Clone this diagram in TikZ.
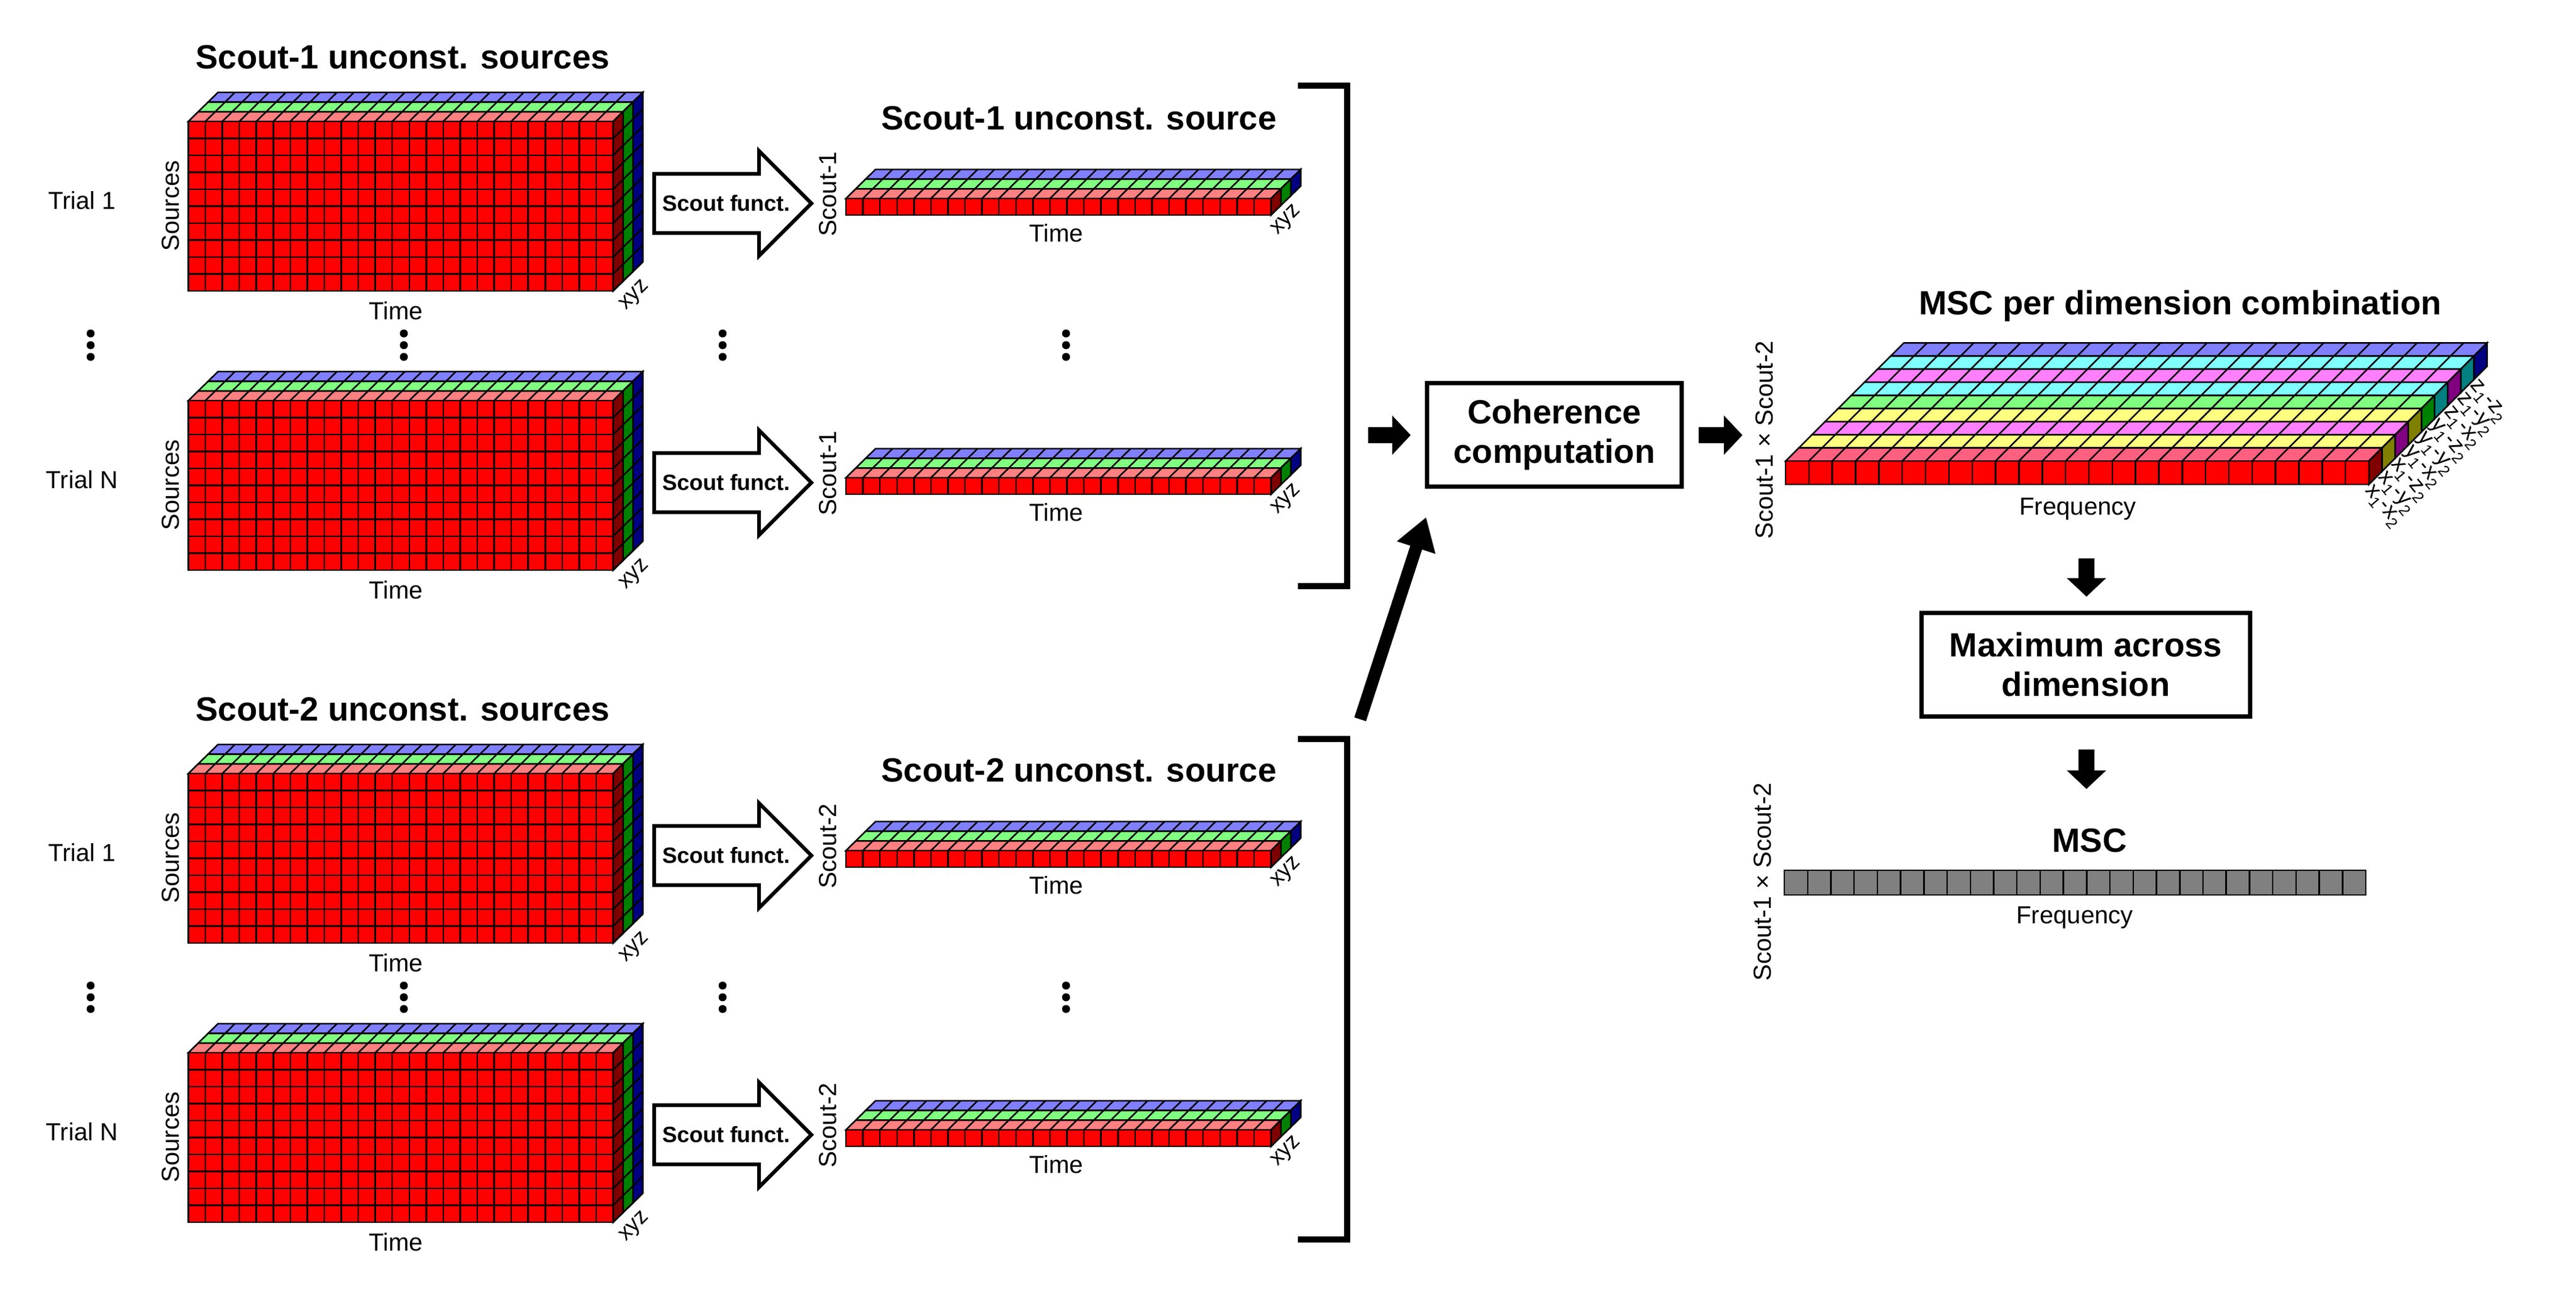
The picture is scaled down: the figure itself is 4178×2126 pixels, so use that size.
\documentclass[tikz,border=0pt]{standalone}
\usepackage{fontspec}
\setmainfont{Liberation Sans}
\usetikzlibrary{arrows.meta}
\definecolor{redT}{HTML}{FF8080}
\definecolor{redTT}{HTML}{FF6080}
\definecolor{greenT}{HTML}{80FF80}
\definecolor{blueT}{HTML}{8080FF}
\definecolor{yelT}{HTML}{FFFF80}
\definecolor{magT}{HTML}{FF80FF}
\definecolor{cyaT}{HTML}{80FFFF}
\definecolor{redS}{HTML}{800000}
\definecolor{greenS}{HTML}{008000}
\definecolor{blueS}{HTML}{000080}
\definecolor{yelS}{HTML}{808000}
\definecolor{magS}{HTML}{800080}
\definecolor{cyaS}{HTML}{008080}
\definecolor{frontR}{HTML}{FF0000}
\definecolor{grayC}{HTML}{808080}
% #1 X, #2 Y, #3 ncol, #4 nrow, #5 cw, #6 rh, #7 layers k/top/side, #8 front colour
\newcommand{\mystack}[8]{%
  \pgfmathsetmacro\stW{#3*#5}\pgfmathsetmacro\stH{#4*#6}%
  \foreach \k/\ct/\cs in {#7} {%
    \pgfmathsetmacro\ax{#1+\ddx*\k}\pgfmathsetmacro\ay{#2+\ddy*\k}%
    \filldraw[fill=\ct] (\ax,\ay) -- ++(\stW,0) -- ++(\ddx,\ddy) -- ++(-\stW,0) -- cycle;
    \foreach \i in {1,...,#3} \draw ({\ax+\i*#5},\ay) -- ++(\ddx,\ddy);
    \filldraw[fill=\cs] ({\ax+\stW},\ay) -- ++(\ddx,\ddy) -- ++(0,\stH) -- ++(-\ddx,-\ddy) -- cycle;
    \ifnum#4>1 \foreach \j in {1,...,#4} \draw ({\ax+\stW},{\ay+\j*#6}) -- ++(\ddx,\ddy);\fi
  }%
  \filldraw[fill=#8] (#1,#2) rectangle ++(\stW,\stH);
  \foreach \i in {1,...,#3} \draw ({#1+\i*#5},#2) -- ++(0,\stH);
  \ifnum#4>1 \foreach \j in {1,...,#4} \draw (#1,{#2+\j*#6}) -- ++(\stW,0);\fi
}
\newcommand{\scoutarrow}[3]{% name, x, y (centre of body left edge)
  \draw[line width=6, fill=white] (#2,{#3-48}) -- ++(170,0) -- ++(0,-37) -- ++(85,85) -- ++(-85,85) -- ++(0,-37) -- ++(-170,0) -- cycle;
  \node[font=\fontsize{36}{40}\selectfont\bfseries,inner sep=0] (#1) at ({#2+117},#3) {Scout funct.};
}
\newcommand{\mydots}[3]{% name x y
  \coordinate (#1) at (#2,#3);
  \foreach \d in {-19,0,19} \fill ({#2},{#3+\d}) circle (6.5);
}
\begin{document}
\begin{tikzpicture}[x=1pt,y=-1pt,line width=2.5,
  ttl/.style={font=\fontsize{54.5}{62}\selectfont\bfseries},
  lbl/.style={font=\fontsize{40}{46}\selectfont},
  sml/.style={font=\fontsize{36}{42}\selectfont},
  box/.style={draw,line width=7,align=center,font=\fontsize{54.5}{64}\selectfont\bfseries,inner sep=0},
  barrow/.style={line width=26,-{Triangle[length=30pt,width=62pt]}}]
\useasboundingbox (0,0) rectangle (4178,2126);
\def\ddx{16}\def\ddy{-15.7}
% big blocks
\foreach \t/\tr in {0/Trial 1,453/Trial N,1058/Trial 1,1511/Trial N}{
  \mystack{305.5}{197+\t}{25}{10}{27.56}{27.5}{2/blueT/blueS,1/greenT/greenS,0/redT/redS}{frontR}
  \node[lbl] (tr\t) at (133,325+\t) {\tr};
  \node[lbl,rotate=90] (src\t) at (277,334+\t) {Sources};
  \node[lbl] (tm\t) at (642,504+\t) {Time};
  \node[sml,rotate=45] (xyz\t) at (1030,480+\t) {xyz};
  \scoutarrow{sf\t}{1061}{330+\t}
}
% thin strips
\foreach \t/\s in {0/1,453/1,1058/2,1511/2}{
  \mystack{1372}{322+\t}{25}{1}{27.58}{27}{2/blueT/blueS,1/greenT/greenS,0/redT/redS}{frontR}
  \node[lbl,rotate=90] (sc\t) at (1343,315+\t) {Scout-\s};
  \node[lbl] (st\t) at (1713,378+\t) {Time};
  \node[sml,rotate=45] (sx\t) at (2087,358+\t) {xyz};
}
\node[ttl] (t1) at (653,93) {Scout-1 unconst. sources};
\node[ttl] (t2) at (653,1151) {Scout-2 unconst. sources};
\node[ttl] (t3) at (1750,192) {Scout-1 unconst. source};
\node[ttl] (t4) at (1750,1250) {Scout-2 unconst. source};
\foreach \x [count=\n] in {147,655,1172,1729}{
  \mydots{da\n}{\x}{560}
  \mydots{db\n}{\x}{1618}
}
% brackets
\draw[line width=10] (2105,139) -- (2185,139) -- (2185,951) -- (2105,951);
\draw[line width=10] (2105,1199) -- (2185,1199) -- (2185,2011) -- (2105,2011);
\coordinate (br2) at (2206,1167);
\coordinate (cohin) at (2313,839);
% coherence
\node[box,minimum width=413,minimum height=168] (coh) at (2521,705) {Coherence\\computation};
\coordinate (a1s) at (2219,706); \coordinate (a1e) at (2288,706);
\draw[barrow] (a1s) -- (a1e);
\draw[line width=20,-{Triangle[length=52pt,width=62pt]}] (br2) -- (cohin);
\coordinate (a2s) at (2755,706); \coordinate (a2e) at (2826,706);
\draw[barrow] (a2s) -- (a2e);
% MSC block
\def\ddx{21.3}\def\ddy{-21.3}
\mystack{2896}{748}{25}{1}{37.84}{38}{8/blueT/blueS,7/cyaT/cyaS,6/magT/magS,5/cyaT/cyaS,4/greenT/greenS,3/yelT/yelS,2/magT/magS,1/yelT/yelS,0/redTT/redS}{frontR}
\foreach \lab [count=\n from 0] in {x\textsubscript{1}-x\textsubscript{2},x\textsubscript{1}-y\textsubscript{2},x\textsubscript{1}-z\textsubscript{2},y\textsubscript{1}-x\textsubscript{2},y\textsubscript{1}-y\textsubscript{2},y\textsubscript{1}-z\textsubscript{2},z\textsubscript{1}-x\textsubscript{2},z\textsubscript{1}-y\textsubscript{2},z\textsubscript{1}-z\textsubscript{2}}{
  \node[font=\fontsize{36}{40}\selectfont,rotate=-50,anchor=north west,inner sep=0] (ml\n) at ({3850+21.3*\n},{782-21.3*\n}) {\lab};
}
\node[ttl] (msct) at (3536,496) {MSC per dimension combination};
\node[lbl,rotate=90] (ss1) at (2862,714) {Scout-1 × Scout-2};
\node[lbl] (fq1) at (3370,826) {Frequency};
\coordinate (d1s) at (3384,906); \coordinate (d1e) at (3384,968);
\draw[barrow] (d1s) -- (d1e);
\node[box,minimum width=533,minimum height=168] (mx) at (3383,1078) {Maximum across\\dimension};
\coordinate (d2s) at (3384,1216); \coordinate (d2e) at (3384,1280);
\draw[barrow] (d2s) -- (d2e);
\node[ttl] (msc) at (3389,1364) {MSC};
\fill[grayC] (2894,1412) rectangle ++(943,40);
\foreach \i in {0,...,25} \draw ({2894+\i*37.72},1412) -- ++(0,40);
\draw (2894,1412) rectangle ++(943,40);
\node[lbl] (fq2) at (3365,1489) {Frequency};
\node[lbl,rotate=90] (ss2) at (2859,1431) {Scout-1 × Scout-2};
\end{tikzpicture}
\end{document}
